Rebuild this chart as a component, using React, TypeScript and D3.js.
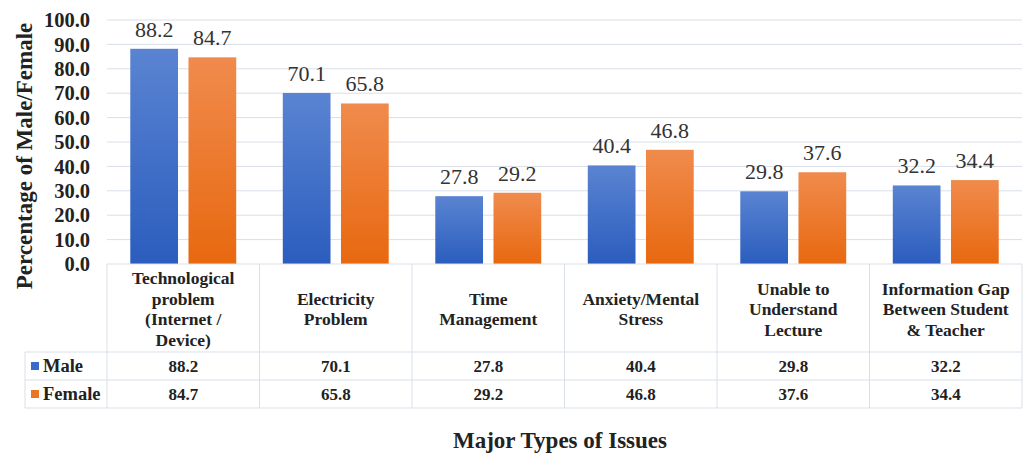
import React from "react";
import * as d3 from "d3";

const categories = [
  ["Technological", "problem", "(Internet /", "Device)"],
  ["Electricity", "Problem"],
  ["Time", "Management"],
  ["Anxiety/Mental", "Stress"],
  ["Unable to", "Understand", "Lecture"],
  ["Information Gap", "Between Student", "& Teacher"],
];
const seriesNames = ["Male", "Female"];
const maleValues = [88.2, 70.1, 27.8, 40.4, 29.8, 32.2];
const femaleValues = [84.7, 65.8, 29.2, 46.8, 37.6, 34.4];
const yTicks = [0, 10, 20, 30, 40, 50, 60, 70, 80, 90, 100];

const W = 1032, H = 453;
const left = 107, right = 1022, top = 20, base = 264;
const headerBottom = 352, row1Bottom = 380, row2Bottom = 408, legendLeft = 25;
const serif = "'Liberation Serif', 'Times New Roman', serif";
const gridColor = "#d9dfe8";

export default function App() {
  const idx = categories.map((_, i) => String(i));
  const x = d3.scaleBand<string>().domain(idx).range([left, right]).padding(0);
  const inner = d3.scaleBand<string>().domain(seriesNames).range([0, x.bandwidth()]).paddingInner(0.18).paddingOuter(0.4);
  const y = d3.scaleLinear().domain([0, 100]).range([base, top]);
  const series = [maleValues, femaleValues];
  const fills = ["url(#gBlue)", "url(#gOrange)"];
  const legendColors = ["#3a6bc9", "#ec7425"];

  return (
    <svg width={W} height={H} style={{ display: "block", position: "absolute", left: 0, top: 0 }}>
      <defs>
        <linearGradient id="gBlue" x1="0" y1="0" x2="0" y2="1">
          <stop offset="0" stopColor="#5a84d2" />
          <stop offset="1" stopColor="#2b5dbe" />
        </linearGradient>
        <linearGradient id="gOrange" x1="0" y1="0" x2="0" y2="1">
          <stop offset="0" stopColor="#f08b4d" />
          <stop offset="1" stopColor="#e8680f" />
        </linearGradient>
      </defs>
      <rect width={W} height={H} fill="#fff" />
      {yTicks.map((t) => (
        <g key={t}>
          {t > 0 && <line x1={left} x2={right} y1={y(t)} y2={y(t)} stroke={gridColor} strokeWidth={1} />}
          <text x={90} y={y(t)} dy="0.35em" textAnchor="end" fontFamily={serif} fontWeight="bold" fontSize={20.5} fill="#222">
            {t.toFixed(1)}
          </text>
        </g>
      ))}
      {series.map((vals, s) =>
        vals.map((v, i) => {
          const bx = (x(String(i)) as number) + (inner(seriesNames[s]) as number);
          return (
            <g key={`${s}-${i}`}>
              <rect x={bx} y={y(v)} width={inner.bandwidth()} height={base - y(v)} fill={fills[s]} />
              <text x={bx + inner.bandwidth() / 2} y={y(v) - 12} textAnchor="middle" fontFamily={serif} fontSize={22} fill="#333">
                {v.toFixed(1)}
              </text>
            </g>
          );
        })
      )}
      {/* table */}
      <g stroke={gridColor} strokeWidth={1} fill="none">
        <line x1={left} x2={right} y1={base} y2={base} />
        <line x1={legendLeft} x2={right} y1={headerBottom} y2={headerBottom} />
        <line x1={legendLeft} x2={right} y1={row1Bottom} y2={row1Bottom} />
        <line x1={legendLeft} x2={right} y1={row2Bottom} y2={row2Bottom} />
        <line x1={legendLeft} x2={legendLeft} y1={headerBottom} y2={row2Bottom} />
        {idx.map((d) => (
          <line key={d} x1={x(d)} x2={x(d)} y1={base} y2={row2Bottom} />
        ))}
        <line x1={right} x2={right} y1={base} y2={row2Bottom} />
      </g>
      {categories.map((lines, i) => {
        const cx = (x(String(i)) as number) + x.bandwidth() / 2;
        const lh = 20.5;
        const startY = 309 - ((lines.length - 1) * lh) / 2;
        return (
          <text key={i} textAnchor="middle" fontFamily={serif} fontWeight="bold" fontSize={17.5} fill="#222">
            {lines.map((l, j) => (
              <tspan key={j} x={cx} y={startY + j * lh} dy="0.35em">{l}</tspan>
            ))}
          </text>
        );
      })}
      {series.map((vals, s) => {
        const ry = s === 0 ? (headerBottom + row1Bottom) / 2 : (row1Bottom + row2Bottom) / 2;
        return (
          <g key={s}>
            <rect x={31} y={ry - 4} width={8} height={8} fill={legendColors[s]} />
            <text x={43} y={ry} dy="0.35em" fontFamily={serif} fontWeight="bold" fontSize={18.5} fill="#222">{seriesNames[s]}</text>
            {vals.map((v, i) => (
              <text key={i} x={(x(String(i)) as number) + x.bandwidth() / 2} y={ry} dy="0.35em" textAnchor="middle" fontFamily={serif} fontWeight="bold" fontSize={17} fill="#222">
                {v.toFixed(1)}
              </text>
            ))}
          </g>
        );
      })}
      <text transform={`translate(24,156) rotate(-90)`} textAnchor="middle" dy="0.35em" fontFamily={serif} fontWeight="bold" fontSize={23} fill="#222">
        Percentage of Male/Female
      </text>
      <text x={560} y={448} textAnchor="middle" fontFamily={serif} fontWeight="bold" fontSize={23} fill="#222">
        Major Types of Issues
      </text>
    </svg>
  );
}
